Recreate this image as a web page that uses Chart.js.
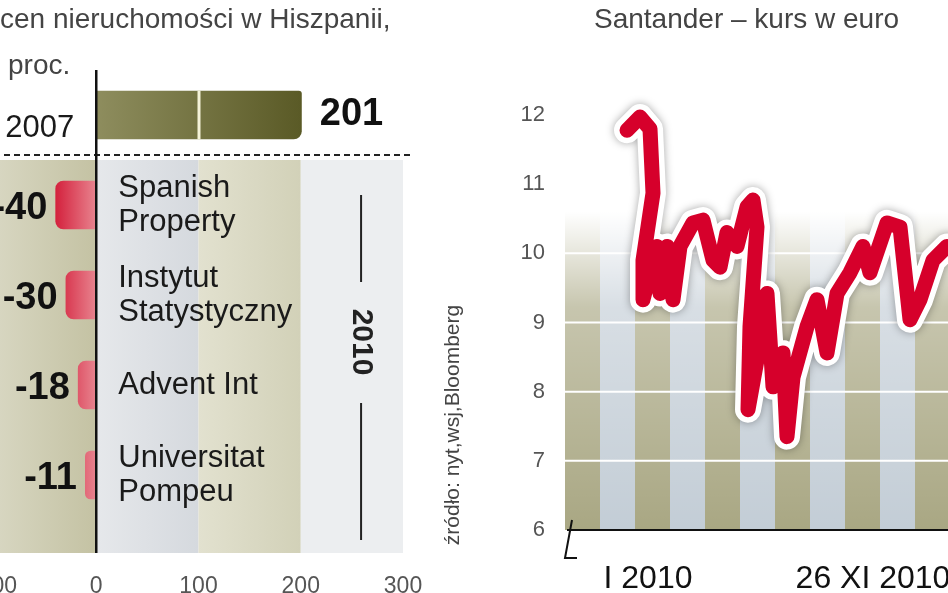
<!DOCTYPE html>
<html><head><meta charset="utf-8">
<script src="https://cdn.jsdelivr.net/npm/chart.js@4.4.1/dist/chart.umd.min.js"></script>
<style>
html,body{margin:0;padding:0;width:948px;height:593px;overflow:hidden;background:#fff;position:relative;font-family:"Liberation Sans",Arial,sans-serif}
#c1{position:absolute;left:-6px;top:0}
#c2{position:absolute;left:500px;top:0}
.t{position:absolute;color:#444;font-size:28px;white-space:nowrap}
</style></head><body>
<canvas id="c2" width="560" height="593" style="width:560px;height:593px"></canvas>
<canvas id="c1" width="480" height="593" style="width:480px;height:593px"></canvas>
<div class="t" style="left:0;top:3px">cen nieruchomości w Hiszpanii,</div>
<div class="t" style="left:8px;top:49px">proc.</div>
<div class="t" style="left:594px;top:3px">Santander – kurs w euro</div>
<script>
// ---- left chart data
const categories = ["2007", "Spanish Property", "Instytut Statystyczny", "Advent Int", "Universitat Pompeu"];
const catLines = [["2007"], ["Spanish", "Property"], ["Instytut", "Statystyczny"], ["Advent Int"], ["Universitat", "Pompeu"]];
const changes = [201, -40, -30, -18, -11];
const valueLabels = ["201", "-40", "-30", "-18", "-11"];
const xTicks = [-100, 0, 100, 200, 300];
// ---- right chart data
const days = [52,65,75,78,68,68,82,85,92,98,105,118,128,138,145,152,162,172,178,182,175,173,182,192,198,208,212,218,232,242,252,262,275,288,295,312,325,335,345,358,372];
const price = [11.78,11.97,11.8,10.87,9.9,9.33,10.1,9.42,10.1,9.33,10.1,10.44,10.48,9.9,9.8,10.3,10.1,10.67,10.77,10.38,8.94,7.74,8.46,9.42,8.07,8.56,7.35,8.21,8.94,9.33,8.56,9.42,9.72,10.1,9.72,10.44,10.38,9.04,9.33,9.9,10.1];
const yTicks = [6,7,8,9,10,11,12];
const dateTicks = [73, 298];
const dateLabels = ["I 2010", "26 XI 2010"];

const leftDeco = {
  id:'leftDeco',
  beforeDatasetsDraw(ch){
    const c=ch.ctx, x=ch.scales.x;
    const top=160, bot=553;
    const x0=x.getPixelForValue(0), x1=x.getPixelForValue(100), x2=x.getPixelForValue(200), x3=x.getPixelForValue(300);
    let g=c.createLinearGradient(0,0,x0,0); g.addColorStop(0,'#d8d7c2'); g.addColorStop(1,'#c4c2a3');
    c.fillStyle=g; c.fillRect(0,top,x0,bot-top);
    g=c.createLinearGradient(x0,0,x1,0); g.addColorStop(0,'#e6e8eb'); g.addColorStop(1,'#d5d9de');
    c.fillStyle=g; c.fillRect(x0,top,x1-x0,bot-top);
    g=c.createLinearGradient(x1,0,x2,0); g.addColorStop(0,'#e2e1cf'); g.addColorStop(1,'#d2d1b8');
    c.fillStyle=g; c.fillRect(x1,top,x2-x1,bot-top);
    c.fillStyle='#eceef0'; c.fillRect(x2,top,x3-x2,bot-top);
    c.save(); c.strokeStyle='#222'; c.lineWidth=2; c.setLineDash([6,4]);
    c.beginPath(); c.moveTo(0,155); c.lineTo(x3+8,155); c.stroke(); c.restore();
  },
  afterDatasetsDraw(ch){
    const c=ch.ctx, x=ch.scales.x, meta=ch.getDatasetMeta(0);
    const x0=x.getPixelForValue(0);
    const b0=meta.data[0];
    c.fillStyle='#f4f2d8'; c.fillRect(x.getPixelForValue(100)-1,b0.y-b0.height/2,3,b0.height);
    c.strokeStyle='#111'; c.lineWidth=2.5; c.beginPath(); c.moveTo(x0,70); c.lineTo(x0,553); c.stroke();
    c.textBaseline='middle';
    meta.data.forEach((b,i)=>{
      const v=changes[i];
      c.font='bold 38px "Liberation Sans Narrow","Liberation Sans",sans-serif'; c.fillStyle='#111';
      if(v>0){ c.textAlign='left'; c.fillText(valueLabels[i], b.x+18, b.y); }
      else { c.textAlign='right'; c.fillText(valueLabels[i], b.x-8, b.y+4); }
      c.font='31px "Liberation Sans",sans-serif'; c.fillStyle='#1a1a1a';
      const lines=catLines[i];
      if(i===0){ c.textAlign='right'; c.fillText(lines[0], x0-22, b.y+13); }
      else { c.textAlign='left'; lines.forEach((t,k)=>c.fillText(t, x0+22, b.y+(k-(lines.length-1)/2)*34)); }
    });
    const bx=x.getPixelForValue(259);
    c.strokeStyle='#222'; c.lineWidth=2;
    c.beginPath(); c.moveTo(bx,195); c.lineTo(bx,282); c.moveTo(bx,403); c.lineTo(bx,540); c.stroke();
    c.save(); c.translate(bx,342); c.rotate(Math.PI/2); c.textAlign='center';
    c.font='bold 30px "Liberation Sans Narrow","Liberation Sans",sans-serif'; c.fillStyle='#222'; c.fillText('2010',0,0); c.restore();
    c.save(); c.translate(459,425); c.rotate(-Math.PI/2); c.textAlign='center';
    c.font='21px "Liberation Sans Narrow","Liberation Sans",sans-serif'; c.fillStyle='#444'; c.fillText('źródło: nyt,wsj,Bloomberg',0,0); c.restore();
  }
};

new Chart(document.getElementById('c1'),{
  type:'bar',
  data:{labels:categories,datasets:[{data:changes,
    backgroundColor:(ctx)=>{const ch=ctx.chart, a=ch.chartArea; if(!a) return '#666';
      if(ctx.dataIndex===0){const g=ch.ctx.createLinearGradient(ch.scales.x.getPixelForValue(0),0,ch.scales.x.getPixelForValue(201),0);g.addColorStop(0,'#8e8d5e');g.addColorStop(1,'#5a5a26');return g;}
      const g=ch.ctx.createLinearGradient(ch.scales.x.getPixelForValue(-45),0,ch.scales.x.getPixelForValue(0),0);g.addColorStop(0,'#d11432');g.addColorStop(1,'#e8848f');return g;},
    borderRadius:(ctx)=>ctx.dataIndex===0?{topRight:3,bottomRight:8}:{topLeft:8,bottomLeft:8},
    borderSkipped:false, barPercentage:0.54, categoryPercentage:1}]},
  options:{indexAxis:'y',responsive:false,animation:false,devicePixelRatio:1,
    layout:{autoPadding:false,padding:{top:70,right:71,left:0,bottom:0}},
    plugins:{legend:{display:false},tooltip:{enabled:false}},
    scales:{
      y:{display:false},
      x:{min:-100,max:300,grid:{display:false},border:{display:false},
        afterBuildTicks:(s)=>{s.ticks=xTicks.map(v=>({value:v}));},
        afterFit:(s)=>{s.height=73;s.paddingLeft=0;s.paddingRight=0;},
        ticks:{padding:45,color:'#555',font:{size:23,family:'"Liberation Sans",sans-serif'},maxRotation:0}}
    }},
  plugins:[leftDeco]
});

const rightDeco = {
  id:'rightDeco',
  beforeDatasetsDraw(ch){
    const c=ch.ctx, a=ch.chartArea, y=ch.scales.y;
    const top=y.getPixelForValue(10.6), bot=y.getPixelForValue(6);
    c.save();
    for(let i=0;i*35<a.right-a.left+40;i++){
      const xs=a.left+i*35-10;
      c.fillStyle = i%2===0 ? '#a9a783' : '#c3cdd6';
      c.fillRect(xs,top,35,bot-top);
    }
    const g=c.createLinearGradient(0,top,0,bot); g.addColorStop(0,'rgba(255,255,255,1)'); g.addColorStop(0.3,'rgba(255,255,255,0.35)'); g.addColorStop(1,'rgba(255,255,255,0)');
    c.fillStyle=g; c.fillRect(a.left-10,top-1,a.right-a.left+20,bot-top+1);
    c.strokeStyle='#fff'; c.lineWidth=2;
    [7,8,9,10].forEach(v=>{const py=y.getPixelForValue(v); c.beginPath(); c.moveTo(a.left-10,py); c.lineTo(a.right,py); c.stroke();});
    c.strokeStyle='#111'; c.lineWidth=2;
    c.beginPath(); c.moveTo(a.left-8,bot); c.lineTo(a.right,bot); c.stroke();
    c.beginPath(); c.moveTo(a.left-3,bot-10); c.lineTo(a.left-10,bot+28); c.lineTo(a.left+2,bot+28); c.stroke();
    c.restore();
  },
  beforeDatasetDraw(ch,args){
    if(args.index===0){ch.ctx.save();ch.ctx.shadowColor='rgba(0,0,0,0.35)';ch.ctx.shadowBlur=8;}
  },
  afterDatasetDraw(ch,args){ if(args.index===0) ch.ctx.restore(); }
};

const pts = days.map((d,i)=>({x:d,y:price[i]}));
new Chart(document.getElementById('c2'),{
  type:'line',
  data:{datasets:[
    {data:pts,order:2,clip:false,borderColor:'#ffffff',borderWidth:26,pointRadius:0,tension:0,borderJoinStyle:'round',borderCapStyle:'round'},
    {data:pts,order:1,clip:false,borderColor:'#d6002b',borderWidth:15,pointRadius:0,tension:0,borderJoinStyle:'round',borderCapStyle:'round'}
  ]},
  options:{responsive:false,animation:false,devicePixelRatio:1,
    layout:{autoPadding:false,padding:{top:115,right:0,left:0,bottom:0}},
    plugins:{legend:{display:false},tooltip:{enabled:false}},
    scales:{
      x:{type:'linear',min:0,max:485,grid:{display:false},border:{display:false},
        afterBuildTicks:(s)=>{s.ticks=dateTicks.map(v=>({value:v}));},
        afterFit:(s)=>{s.height=63;s.paddingLeft=0;s.paddingRight=0;},
        ticks:{padding:22,color:'#111',font:{size:32,family:'"Liberation Sans",sans-serif'},maxRotation:0,
          callback:(v)=>dateLabels[dateTicks.indexOf(v)]}},
      y:{min:6,max:12,grid:{display:false},border:{display:false},
        afterBuildTicks:(s)=>{s.ticks=yTicks.map(v=>({value:v}));},
        afterFit:(s)=>{s.width=75;s.paddingTop=0;s.paddingBottom=0;},
        ticks:{padding:22,color:'#555',font:{size:22,family:'"Liberation Sans",sans-serif'}}}
    }},
  plugins:[rightDeco]
});
</script>
</body></html>
